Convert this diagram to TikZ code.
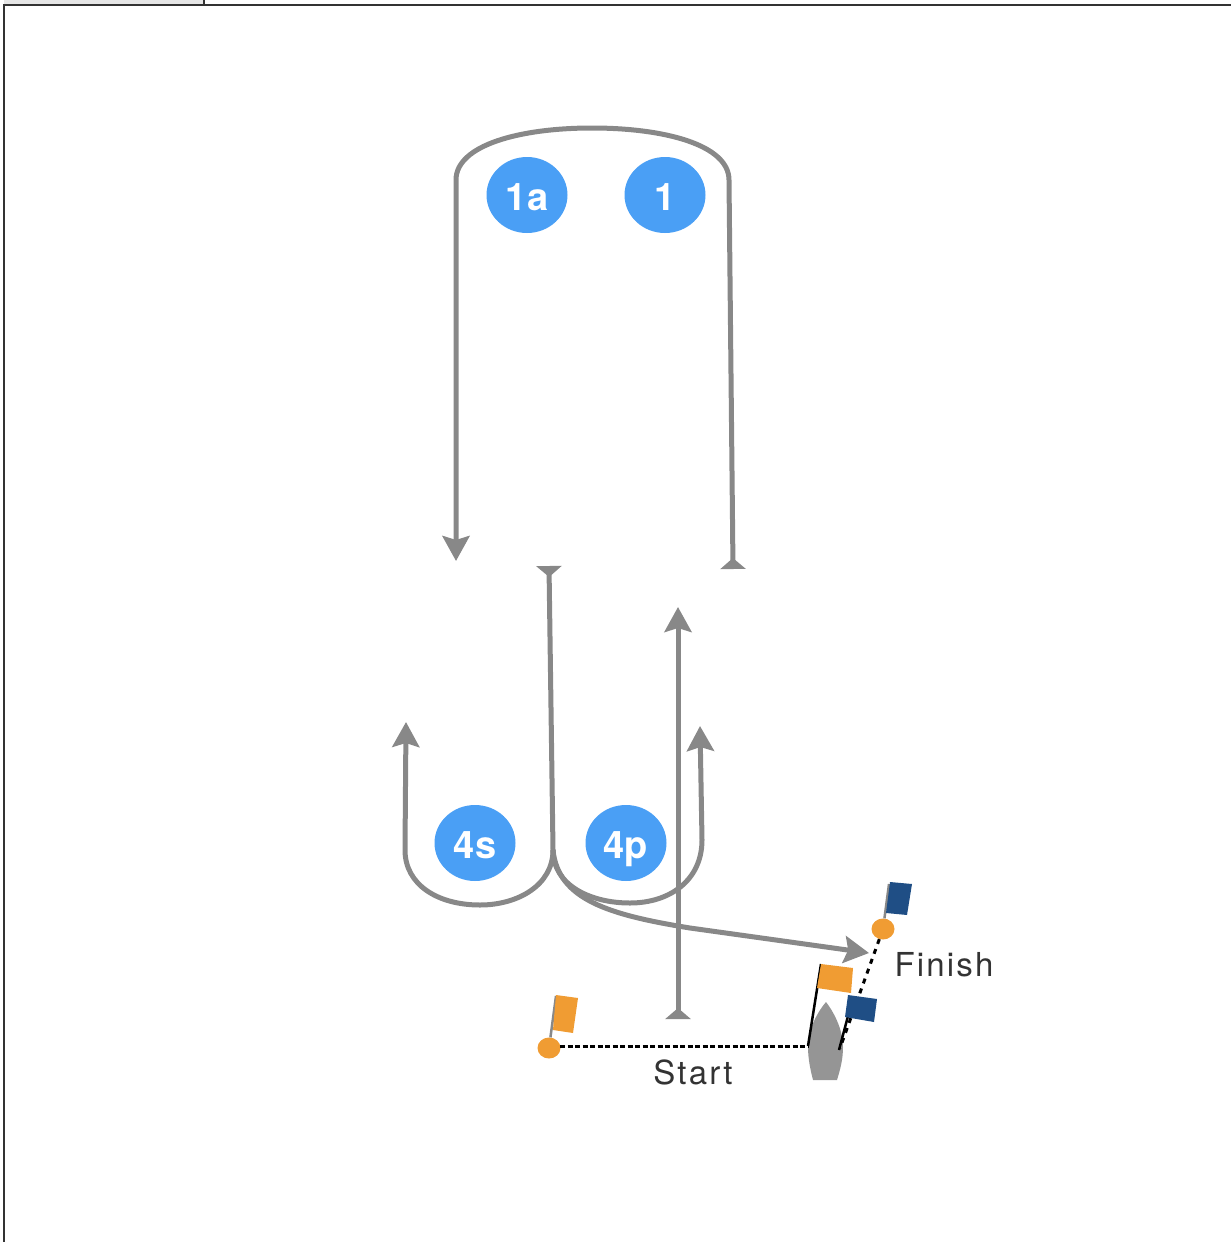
\documentclass[tikz,border=0pt]{standalone}
\usepackage{fontspec}
\setmainfont{TeX Gyre Heros}
\newfontfamily\labelfont[LetterSpace=6.5]{TeX Gyre Heros}
\usetikzlibrary{arrows.meta,shapes.geometric}
\definecolor{pathGray}{HTML}{888888}
\definecolor{boatGray}{HTML}{959595}
\definecolor{markBlue}{HTML}{4A9FF5}
\definecolor{flagOrange}{HTML}{F09C33}
\definecolor{flagBlue}{HTML}{1F4E85}
\definecolor{frameGray}{HTML}{333333}
\definecolor{tabGray}{HTML}{E6E6E6}
\tikzset{
  x=1pt, y=-1pt,
  routeline/.style={draw=pathGray, line width=5pt},
  routearrow/.style={routeline, -{Stealth[length=25pt,width=27pt,inset=4pt]}},
  routefull/.style={routeline, {Triangle[reversed,length=11pt,width=25pt]}-{Stealth[length=25pt,width=27pt,inset=4pt]}},
  markbubble/.style={ellipse, fill=markBlue, text=white, inner sep=0pt, minimum width=81pt, minimum height=76pt, text height=27pt, text depth=0pt, font=\fontsize{38}{38}\selectfont\bfseries},
  buoydot/.style={ellipse, fill=flagOrange, inner sep=0pt, minimum width=23pt, minimum height=21pt},
  linelabel/.style={text=frameGray, font=\labelfont\fontsize{33}{33}\selectfont},
  flagpole/.style={draw=pathGray, line width=2.5pt},
  startgate/.style={draw=black, line width=3pt, dash pattern=on 5pt off 2.5pt},
  finishgate/.style={draw=black, line width=3pt, dash pattern=on 5pt off 5.5pt},
}
\begin{document}
\begin{tikzpicture}
  \useasboundingbox (0,0) rectangle (1231,1242);
  % Window frame.
  \fill [tabGray] (4,0) rectangle (204,5);
  \draw [frameGray, line width=2.5pt] (204,0) -- (204,5);
  \draw [frameGray, line width=2.5pt] (1231,5) -- (4,5) -- (4,1242);
  % Marks.
  \node [markbubble] (markOneA) at (527,195) {\raisebox{-1.5pt}{1a}};
  \node [markbubble] (markOne) at (665,195) {\raisebox{-1.5pt}{1}};
  \node [markbubble] (markFourS) at (475,843) {\raisebox{-1.5pt}{4s}};
  \node [markbubble] (markFourP) at (626,843) {\raisebox{-1.5pt}{4p}};
  % Route ends.
  \coordinate (upwindFoot) at (733,569);
  \coordinate (upwindEnd) at (456,561);
  \coordinate (downwindFoot) at (549,566);
  \coordinate (splitPoint) at (553,850);
  \coordinate (leftEnd) at (406,722);
  \coordinate (rightEnd) at (700,726);
  \coordinate (startFoot) at (678,1019);
  \coordinate (startEnd) at (678,607);
  \coordinate (finishEnd) at (869,953);
  % Routes.
  \draw [routefull] (upwindFoot) -- (729,180) .. controls (729,145) and (665,128) .. (592,128)
    .. controls (520,128) and (456,145) .. (456,180) -- (upwindEnd);
  \draw [routefull] (downwindFoot) -- (splitPoint) .. controls (553,885) and (518,905) .. (480,905)
    .. controls (438,905) and (405,885) .. (405,850) -- (leftEnd);
  \draw [routearrow] (splitPoint) .. controls (553,885) and (590,903) .. (630,903)
    .. controls (670,903) and (702,880) .. (702,840) -- (rightEnd);
  \draw [routearrow] (splitPoint) .. controls (558,900) and (610,915) .. (690,928) -- (finishEnd);
  \draw [routefull] (startFoot) -- (startEnd);
  % Boat.
  \fill [boatGray] (826,1002) .. controls (815,1015) and (808,1032) .. (808,1047)
    .. controls (808,1060) and (811,1072) .. (813,1080) -- (837,1080)
    .. controls (840,1070) and (843,1060) .. (843,1047) .. controls (843,1032) and (836,1015) .. (826,1002) -- cycle;
  % Start line.
  \node [buoydot] (startBuoy) at (549,1048) {};
  \coordinate (startEdge) at (560,1046);
  \coordinate (startBoat) at (808,1046);
  \draw [startgate] (startEdge) -- (startBoat);
  \draw [flagpole] (startBuoy) -- (556,996);
  \fill [flagOrange] (556,995) -- (578,998) -- (573,1033) -- (553,1030) -- cycle;
  \node [linelabel] (startLabel) at (693,1072) {Start};
  % Finish line.
  \node [buoydot] (finishBuoy) at (883,929) {};
  \coordinate (finishBoat) at (840,1048);
  \draw [finishgate] (finishBuoy) -- (finishBoat);
  \draw [flagpole] (finishBuoy) -- (889,884);
  \fill [flagBlue] (890,882) -- (912,884) -- (907,915) -- (886,913) -- cycle;
  \node [linelabel] (finishLabel) at (944,965) {Finish};
  % Boat flags.
  \draw [black, line width=2.5pt] (808,1046) -- (821,964);
  \draw [black, line width=2.5pt] (839,1050) -- (848,1016);
  \fill [flagOrange] (821,964) -- (853,968) -- (851,993) -- (817,988) -- cycle;
  \fill [flagBlue] (848,995) -- (877,999) -- (874,1022) -- (845,1017) -- cycle;
\end{tikzpicture}
\end{document}
